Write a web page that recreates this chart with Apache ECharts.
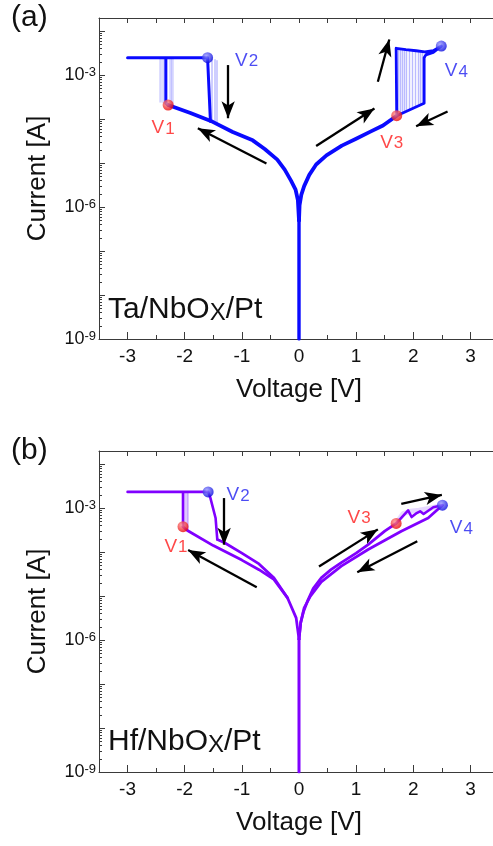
<!DOCTYPE html>
<html>
<head>
<meta charset="utf-8">
<script src="https://cdn.jsdelivr.net/npm/echarts@6/dist/echarts.min.js"></script>
<style>
  html, body { margin: 0; padding: 0; background: #ffffff; }
  #chart { width: 493px; height: 846px; }
</style>
</head>
<body>
<div id="chart"></div>
<script>
// ---------- axis ticks ----------
const xTicks = [-3, -2, -1, 0, 1, 2, 3];
const xHalfTicks = [-3.5, -2.5, -1.5, -0.5, 0.5, 1.5, 2.5, 3.5];
const yDecades = [1e-9, 1e-8, 1e-7, 1e-6, 1e-5, 1e-4, 1e-3, 1e-2];
const yLabelTicks = [1e-9, 1e-6, 1e-3];
const yMin = 1e-9, yMax = 0.02;

// ---------- (a) Ta/NbOx/Pt : [voltage V, current A] ----------
const taZero = [[0, 1e-9], [0, 5e-7]];
const taPosBranch = [[0, 5e-7], [0.01, 1.1e-6], [0.04, 1.9e-6], [0.09, 3.0e-6], [0.18, 5.4e-6], [0.30, 9.3e-6],
  [0.48, 1.5e-5], [0.75, 2.5e-5], [1.0, 3.6e-5], [1.25, 5.2e-5], [1.47, 7.2e-5], [1.71, 1.2e-4]];
const taPosLoop = [[1.71, 1.2e-4], [1.70, 1.25e-4], [1.70, 4.1e-3], [1.87, 3.8e-3], [2.05, 3.6e-3], [2.20, 3.4e-3],
  [2.35, 3.6e-3], [2.49, 4.6e-3], [2.35, 3.3e-3], [2.22, 2.9e-3], [2.19, 2.5e-3], [2.19, 2.3e-4], [1.71, 1.2e-4]];
const taNegBranch = [[0, 5e-7], [-0.02, 1.45e-6], [-0.06, 2.5e-6], [-0.14, 4.0e-6], [-0.25, 7.1e-6], [-0.38, 1.2e-5],
  [-0.60, 2.1e-5], [-0.81, 3.3e-5], [-1.16, 5.1e-5], [-1.51, 8.7e-5], [-1.90, 1.38e-4], [-2.29, 2.1e-4]];
const taNegLoop = [[-2.29, 2.1e-4], [-2.33, 2.3e-4], [-2.33, 2.5e-3], [-3.0, 2.5e-3], [-1.60, 2.5e-3], [-1.55, 8.9e-5]];
// other cycles: [V, I low, I high]
const taCyclesSet = [[1.74, 1.25e-4, 4.0e-3], [1.77, 1.3e-4, 4.0e-3], [1.80, 1.35e-4, 3.9e-3], [1.84, 1.42e-4, 3.9e-3],
  [1.88, 1.48e-4, 3.8e-3], [1.93, 1.58e-4, 3.8e-3], [1.98, 1.70e-4, 3.7e-3], [2.03, 1.80e-4, 3.6e-3],
  [2.08, 1.95e-4, 3.6e-3], [2.12, 2.05e-4, 3.5e-3], [2.16, 2.2e-4, 3.4e-3]];
const taCyclesV1 = [[-2.42, 2.4e-4, 2.5e-3], [-2.38, 2.3e-4, 2.5e-3], [-2.26, 2.0e-4, 2.5e-3], [-2.22, 1.9e-4, 2.5e-3]];
const taCyclesV2 = [[-1.52, 8.5e-5, 2.4e-3], [-1.48, 8.2e-5, 2.3e-3], [-1.44, 8.0e-5, 2.2e-3]];
// V1, V2, V3, V4
const taV = [[-2.29, 2.1e-4], [-1.60, 2.5e-3], [1.71, 1.2e-4], [2.49, 4.6e-3]];
const taArrows = [
  [[-0.57, 9.8e-6], [-1.77, 6.2e-5]],
  [[-1.24, 1.7e-3], [-1.24, 1.05e-4]],
  [[0.30, 2.45e-5], [1.32, 1.74e-4]],
  [[1.38, 7.1e-4], [1.58, 6.5e-3]],
  [[2.60, 1.5e-4], [2.05, 6.9e-5]]
];

// ---------- (b) Hf/NbOx/Pt ----------
const hfZero = [[0, 1e-9], [0, 1.05e-6]];
const hfPosBranch = [[0, 1.05e-6], [0.03, 2.5e-6], [0.08, 4.5e-6], [0.15, 7.8e-6], [0.25, 1.5e-5], [0.39, 2.6e-5],
  [0.56, 4.0e-5], [0.74, 5.8e-5], [1.0, 9.5e-5], [1.21, 1.48e-4], [1.50, 3.0e-4], [1.70, 4.5e-4]];
const hfPosSet = [[1.70, 4.5e-4], [1.79, 6.0e-4], [1.91, 8.9e-4], [1.97, 6.3e-4], [2.05, 7.6e-4], [2.12, 8.5e-4],
  [2.18, 7.4e-4], [2.35, 1.05e-3], [2.51, 1.17e-3]];
const hfPosReturn = [[2.51, 1.17e-3], [2.26, 6.0e-4], [1.79, 3.0e-4], [1.21, 1.15e-4], [0.74, 4.8e-5],
  [0.39, 2.1e-5], [0.20, 1.0e-5], [0.09, 5.4e-6], [0.03, 2.5e-6], [0, 1.05e-6]];
const hfNegSweep = [[0, 1.05e-6], [-0.05, 3.2e-6], [-0.20, 9.1e-6], [-0.44, 2.4e-5], [-0.70, 4.0e-5],
  [-1.0, 6.6e-5], [-1.5, 1.41e-4], [-1.96, 3.16e-4], [-2.03, 3.8e-4]];
const hfNegLoop = [[-2.03, 3.8e-4], [-2.03, 2.35e-3], [-3.0, 2.35e-3], [-1.59, 2.35e-3], [-1.55, 1.7e-3],
  [-1.46, 6.0e-4], [-1.43, 1.95e-4]];
const hfNegReturn = [[-1.43, 1.95e-4], [-1.31, 1.66e-4], [-1.0, 9.5e-5], [-0.70, 5.4e-5], [-0.44, 2.6e-5], [-0.20, 9.1e-6]];
const hfCyclesV1 = [[-2.00, 3.6e-4, 2.35e-3], [-1.97, 3.4e-4, 2.35e-3], [-1.94, 3.2e-4, 2.3e-3]];
const hfSetHaze = [[1.70, 4.5e-4], [1.82, 7.5e-4], [1.95, 8.5e-4], [2.1, 9.0e-4], [2.3, 1.0e-3], [2.51, 1.17e-3]];
const hfV = [[-2.03, 3.8e-4], [-1.59, 2.35e-3], [1.70, 4.5e-4], [2.51, 1.17e-3]];
const hfArrows = [
  [[-0.74, 1.6e-5], [-1.94, 1.12e-4]],
  [[-1.31, 1.7e-3], [-1.31, 1.48e-4]],
  [[0.35, 4.7e-5], [1.38, 3.3e-4]],
  [[1.79, 1.26e-3], [2.50, 2.0e-3]],
  [[2.07, 1.78e-4], [1.02, 3.5e-5]]
];

const vNames = ['1', '2', '3', '4'];

// ---------- styling ----------
const FONT = '"Liberation Sans", Arial, Helvetica, sans-serif';
const AXIS = '#3a3a3a';
const TEXT = '#111111';
const BLUE_LINE = '#0a0aff';
const PURPLE_LINE = '#8000ff';
const RED_TXT = '#ff1a1a';
const BLUE_TXT = '#1f1ff0';

function ball(c0, c1) {
  return { type: 'radial', x: 0.38, y: 0.35, r: 0.7,
    colorStops: [{ offset: 0, color: c0 }, { offset: 1, color: c1 }] };
}
const RED_BALL = ball('#ff9090', '#e80000');
const BLUE_BALL = ball('#9a9aff', '#0000dd');

const yMinor = [];
yDecades.forEach(d => { for (let k = 2; k <= 9; k++) { const v = d * k; if (v < yMax) yMinor.push(v); } });
const xAllHalf = xTicks.concat(xHalfTicks);

function sciLabel(v) {
  const e = Math.round(Math.log10(v));
  return '{m|10}{s|' + e + '}';
}

const grids = [
  { left: 99, top: 18, width: 400, height: 321 },
  { left: 99, top: 451, width: 400, height: 321 }
];

const xAxes = [], yAxes = [];
grids.forEach((g, gi) => {
  xAxes.push({
    gridIndex: gi, type: 'value', position: 'bottom', min: -3.5, max: 3.5,
    axisLine: { show: true, onZero: false, lineStyle: { color: AXIS, width: 1 } },
    axisTick: { show: true, inside: true, length: 7, customValues: xTicks, lineStyle: { color: AXIS } },
    axisLabel: { show: true, customValues: xTicks, margin: 8, fontSize: 19, color: TEXT, fontFamily: FONT,
      formatter: v => String(v) },
    splitLine: { show: false },
    name: 'Voltage [V]', nameLocation: 'middle', nameGap: 38,
    nameTextStyle: { fontSize: 26, fontFamily: FONT, color: TEXT }
  });
  xAxes.push({
    gridIndex: gi, type: 'value', position: 'bottom', min: -3.5, max: 3.5,
    axisLine: { show: false, onZero: false },
    axisTick: { show: true, inside: true, length: 4, customValues: xHalfTicks, lineStyle: { color: AXIS } },
    axisLabel: { show: false }, splitLine: { show: false }
  });
  xAxes.push({
    gridIndex: gi, type: 'value', position: 'top', min: -3.5, max: 3.5,
    axisLine: { show: true, onZero: false, lineStyle: { color: AXIS, width: 1 } },
    axisTick: { show: true, inside: true, length: 5, customValues: xAllHalf, lineStyle: { color: AXIS } },
    axisLabel: { show: false }, splitLine: { show: false }
  });

  yAxes.push({
    gridIndex: gi, type: 'log', logBase: 10, position: 'left', min: yMin, max: yMax,
    axisLine: { show: true, onZero: false, lineStyle: { color: AXIS, width: 1 } },
    axisTick: { show: true, inside: true, length: 6, customValues: yDecades, lineStyle: { color: AXIS } },
    axisLabel: {
      show: true, customValues: yLabelTicks, margin: 3, color: TEXT, fontFamily: FONT,
      formatter: sciLabel,
      rich: {
        m: { fontSize: 18, lineHeight: 18, fontFamily: FONT, color: TEXT, padding: [9, 0, 9, 0], verticalAlign: 'middle' },
        s: { fontSize: 13, lineHeight: 13, fontFamily: FONT, color: TEXT, verticalAlign: 'top' }
      }
    },
    splitLine: { show: false },
    name: 'Current [A]', nameLocation: 'middle', nameGap: 48, nameRotate: 90,
    nameTextStyle: { fontSize: 26, fontFamily: FONT, color: TEXT }
  });
  yAxes.push({
    gridIndex: gi, type: 'log', logBase: 10, position: 'left', min: yMin, max: yMax,
    axisLine: { show: false, onZero: false },
    axisTick: { show: true, inside: true, length: 3, customValues: yMinor, lineStyle: { color: AXIS } },
    axisLabel: { show: false }, splitLine: { show: false }
  });
  yAxes.push({
    gridIndex: gi, type: 'log', logBase: 10, position: 'right', min: yMin, max: yMax,
    axisLine: { show: true, onZero: false, lineStyle: { color: AXIS, width: 1 } },
    axisTick: { show: true, inside: true, length: 6, customValues: yDecades, lineStyle: { color: AXIS } },
    axisLabel: { show: false }, splitLine: { show: false }
  });
});

function curve(gi, data, color, width) {
  return {
    type: 'line', xAxisIndex: gi * 3, yAxisIndex: gi * 3, data: data,
    symbol: 'none', showSymbol: false, silent: true, animation: false, z: 4,
    lineStyle: { color: color, width: width, join: 'round', cap: 'round' }
  };
}

function faint(gi, segs, color, width, opacity) {
  return {
    type: 'lines', coordinateSystem: 'cartesian2d', xAxisIndex: gi * 3, yAxisIndex: gi * 3,
    silent: true, animation: false, z: 3,
    lineStyle: { color: color, width: width, opacity: opacity },
    data: segs.map(s => ({ coords: [[s[0], s[1]], [s[0], s[2]]] }))
  };
}

function arrows(gi, list) {
  return {
    type: 'line', xAxisIndex: gi * 3, yAxisIndex: gi * 3, data: [], silent: true, animation: false,
    markLine: {
      silent: true, animation: false, symbol: ['none', 'arrow'], symbolSize: [10, 17],
      label: { show: false },
      lineStyle: { color: '#000000', width: 2.3, type: 'solid' },
      data: list.map(a => [{ coord: a[0] }, { coord: a[1] }])
    }
  };
}

// label offsets for V1..V4 in each panel
const labelOffsets = [
  [[-5, 23], [39, 3], [-5, 27], [15, 25]],
  [[-7, 20], [30, 3], [-37, -6], [19, 23]]
];

function markers(gi, pts) {
  return {
    type: 'scatter', xAxisIndex: gi * 3, yAxisIndex: gi * 3, silent: true, animation: false, z: 6,
    symbol: 'circle', symbolSize: 11,
    data: pts.map((p, i) => {
      const red = (i % 2 === 0);
      return {
        value: p,
        itemStyle: { color: red ? RED_BALL : BLUE_BALL },
        label: {
          show: true, position: 'inside', offset: labelOffsets[gi][i],
          formatter: '{v|V}{n|' + vNames[i] + '}',
          rich: {
            v: { fontSize: 19, lineHeight: 19, fontFamily: FONT, color: red ? RED_TXT : BLUE_TXT, verticalAlign: 'top' },
            n: { fontSize: 17, lineHeight: 17, fontFamily: FONT, color: red ? RED_TXT : BLUE_TXT,
                 padding: [6, 0, 0, 1], verticalAlign: 'bottom' }
          }
        }
      };
    })
  };
}

const series = [
  faint(0, taCyclesSet, '#3a3aff', 1.4, 0.35),
  faint(0, taCyclesV1, '#3a3aff', 2.5, 0.22),
  faint(0, taCyclesV2, '#3a3aff', 2.0, 0.25),
  curve(0, taZero, BLUE_LINE, 3.4),
  curve(0, taPosBranch, BLUE_LINE, 3.8),
  curve(0, taPosLoop, BLUE_LINE, 2.8),
  curve(0, taNegBranch, BLUE_LINE, 3.8),
  curve(0, taNegLoop, BLUE_LINE, 3.0),
  arrows(0, taArrows),
  markers(0, taV),

  faint(1, hfCyclesV1, '#a060ff', 2.0, 0.35),
  Object.assign(curve(1, hfSetHaze, '#b080ff', 5), { z: 3, lineStyle: { color: '#b080ff', width: 5, opacity: 0.3 } }),
  curve(1, hfZero, PURPLE_LINE, 3.0),
  curve(1, hfPosBranch, PURPLE_LINE, 2.8),
  curve(1, hfPosSet, PURPLE_LINE, 2.6),
  curve(1, hfPosReturn, PURPLE_LINE, 2.8),
  curve(1, hfNegSweep, PURPLE_LINE, 2.8),
  curve(1, hfNegLoop, PURPLE_LINE, 2.6),
  curve(1, hfNegReturn, PURPLE_LINE, 2.8),
  arrows(1, hfArrows),
  markers(1, hfV)
];

function stackLabel(text, top) {
  return {
    type: 'text', left: 108, top: top, silent: true,
    style: {
      text: text, fontFamily: FONT, fill: TEXT,
      rich: {
        m: { fontSize: 30, lineHeight: 30, fontFamily: FONT, fill: TEXT, verticalAlign: 'top' },
        s: { fontSize: 24, lineHeight: 24, fontFamily: FONT, fill: TEXT, padding: [10, 0, 0, 0], verticalAlign: 'bottom' }
      }
    }
  };
}

const option = {
  animation: false,
  backgroundColor: '#ffffff',
  grid: grids.map(g => Object.assign({ outerBoundsMode: 'none', containLabel: false }, g)),
  xAxis: xAxes,
  yAxis: yAxes,
  series: series,
  graphic: [
    { type: 'text', left: 11, top: 3, silent: true, style: { text: '(a)', fontSize: 30, fontFamily: FONT, fill: TEXT } },
    { type: 'text', left: 11, top: 436, silent: true, style: { text: '(b)', fontSize: 30, fontFamily: FONT, fill: TEXT } },
    stackLabel('{m|Ta/NbO}{s|X}{m|/Pt}', 291),
    stackLabel('{m|Hf/NbO}{s|X}{m|/Pt}', 723)
  ]
};

const chart = echarts.init(document.getElementById('chart'), null, { renderer: 'canvas' });
chart.setOption(option);
</script>
</body>
</html>
